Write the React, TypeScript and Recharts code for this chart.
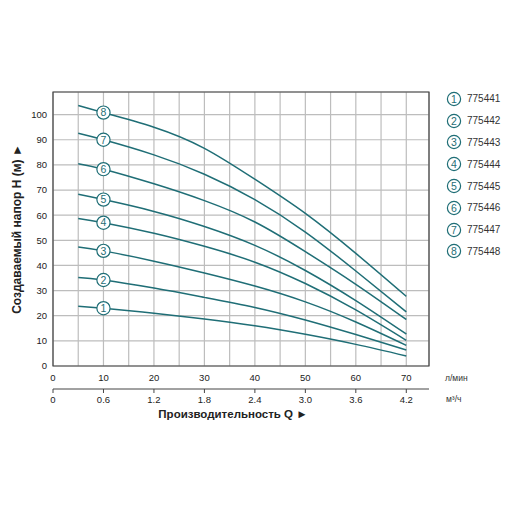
import { LineChart, Line, XAxis, YAxis, CartesianGrid, ReferenceArea, Legend, Label } from 'recharts';

// flow (l/min) and head (m)
const FLOW_LPM = [5, 10, 20, 30, 40, 50, 60, 70];
const HEAD_775441 = [23.8, 23.0, 21.0, 18.7, 16.0, 12.6, 8.6, 4.0];
const HEAD_775442 = [35.2, 34.2, 31.0, 27.3, 23.3, 18.3, 12.5, 6.4];
const HEAD_775443 = [47.3, 45.8, 41.7, 37.0, 31.8, 25.5, 17.5, 8.2];
const HEAD_775444 = [58.7, 57.0, 52.8, 47.6, 41.3, 32.8, 22.3, 10.2];
const HEAD_775445 = [68.3, 66.2, 61.5, 55.5, 48.0, 38.0, 26.0, 12.7];
const HEAD_775446 = [80.5, 78.3, 72.5, 65.8, 57.3, 45.5, 32.5, 18.5];
const HEAD_775447 = [92.6, 90.0, 84.0, 76.3, 66.2, 53.3, 37.8, 21.5];
const HEAD_775448 = [103.6, 100.8, 95.0, 86.6, 74.3, 60.7, 44.8, 27.7];

const MODELS = ['775441', '775442', '775443', '775444', '775445', '775446', '775447', '775448'];
const HEADS = [HEAD_775441, HEAD_775442, HEAD_775443, HEAD_775444, HEAD_775445, HEAD_775446, HEAD_775447, HEAD_775448];

const LPM_TICKS = [0, 5, 10, 15, 20, 25, 30, 35, 40, 45, 50, 55, 60, 65, 70];
const M3H_TICKS = [0, 0.6, 1.2, 1.8, 2.4, 3.0, 3.6, 4.2];
const H_TICKS = [0, 10, 20, 30, 40, 50, 60, 70, 80, 90, 100];

const TEAL = '#1f6e76';
const BADGE_AT = 10;

const data = FLOW_LPM.map((q, i) => {
  const row: Record<string, number> = { q };
  MODELS.forEach((m, k) => (row[m] = HEADS[k][i]));
  return row;
});

function Badge({ cx, cy, n }: { cx: number; cy: number; n: number }) {
  return (
    <g>
      <circle cx={cx} cy={cy} r={6.6} fill="#fff" stroke={TEAL} strokeWidth={1.2} />
      <text x={cx} y={cy} dy="0.36em" textAnchor="middle" fontSize={10.5} fill={TEAL}>
        {n}
      </text>
    </g>
  );
}

function LegendList() {
  return (
    <div>
      {MODELS.map((m, i) => (
        <div key={m} style={{ display: 'flex', alignItems: 'center', height: 21.8 }}>
          <svg width={16} height={16}>
            <Badge cx={8} cy={8} n={i + 1} />
          </svg>
          <span style={{ marginLeft: 5, fontSize: 10, color: '#333' }}>{m}</span>
        </div>
      ))}
    </div>
  );
}

const tickStyle = { fontSize: 9.5, fill: '#222' };

export default function App() {
  return (
    <div style={{ position: 'absolute', left: 0, top: 0, fontFamily: '"Liberation Sans", Arial, sans-serif' }}>
      <LineChart width={512} height={512} data={data} margin={{ top: 92, right: 83, bottom: 103, left: 0 }}>
        <CartesianGrid stroke="#bdbdbd" strokeWidth={1.2} />
        <XAxis
          dataKey="q"
          type="number"
          domain={[0, 74.5]}
          ticks={LPM_TICKS}
          allowDataOverflow
          tickFormatter={(v: number) => (v % 10 === 0 ? String(v) : '')}
          axisLine={false}
          tickLine={false}
          tick={tickStyle}
          height={23}
        >
          <Label value="л/мин" position="right" offset={16} fontSize={8.5} fill="#333" />
        </XAxis>
        <XAxis
          xAxisId="q"
          dataKey={(row: { q: number }) => (row.q * 60) / 1000}
          type="number"
          domain={[0, 4.47]}
          ticks={M3H_TICKS}
          allowDataOverflow
          tickFormatter={(v: number) => (v === 0 ? '0' : v.toFixed(1))}
          axisLine={{ stroke: '#444' }}
          tickLine={{ stroke: '#444' }}
          tickSize={4}
          tickMargin={3}
          tick={tickStyle}
          height={20}
        >
          <Label
            content={({ viewBox }: any) => (
              <g>
                <text x={viewBox.x + viewBox.width + 17} y={viewBox.y + 13} fontSize={8.5} fill="#333">
                  м³/ч
                </text>
                <text
                  x={viewBox.x + viewBox.width / 2 - 8}
                  y={viewBox.y + 29}
                  textAnchor="middle"
                  fontSize={11.5}
                  fontWeight="bold"
                  fill="#222"
                >
                  Производительность Q ►
                </text>
              </g>
            )}
          />
        </XAxis>
        <YAxis
          type="number"
          domain={[0, 109]}
          ticks={H_TICKS}
          allowDataOverflow
          axisLine={false}
          tickLine={false}
          tickMargin={0}
          tick={tickStyle}
          width={53}
        >
          <Label
            content={({ viewBox }: any) => {
              const x = viewBox.x + 17;
              const y = viewBox.y + viewBox.height / 2;
              return (
                <text
                  x={x}
                  y={y}
                  transform={`rotate(-90 ${x} ${y})`}
                  textAnchor="middle"
                  dy="0.35em"
                  fontSize={12}
                  fontWeight="bold"
                  fill="#222"
                >
                  Создаваемый напор H (м) ►
                </text>
              );
            }}
          />
        </YAxis>
        <ReferenceArea x1={0} x2={74.5} y1={0} y2={109} fill="none" stroke="#444" strokeWidth={1.2} ifOverflow="visible" />
        {MODELS.map((m, k) => (
          <Line
            key={m}
            dataKey={m}
            type="natural"
            stroke={TEAL}
            strokeWidth={1.5}
            isAnimationActive={false}
            dot={(p: any) =>
              p.payload.q === BADGE_AT ? (
                <Badge key={p.index} cx={p.cx} cy={p.cy} n={k + 1} />
              ) : (
                <g key={p.index} />
              )
            }
            activeDot={false}
          />
        ))}
        <Legend
          layout="vertical"
          align="center"
          verticalAlign="middle"
          content={() => <LegendList />}
          wrapperStyle={{ left: 446, top: 88, width: 66 }}
        />
      </LineChart>
    </div>
  );
}
